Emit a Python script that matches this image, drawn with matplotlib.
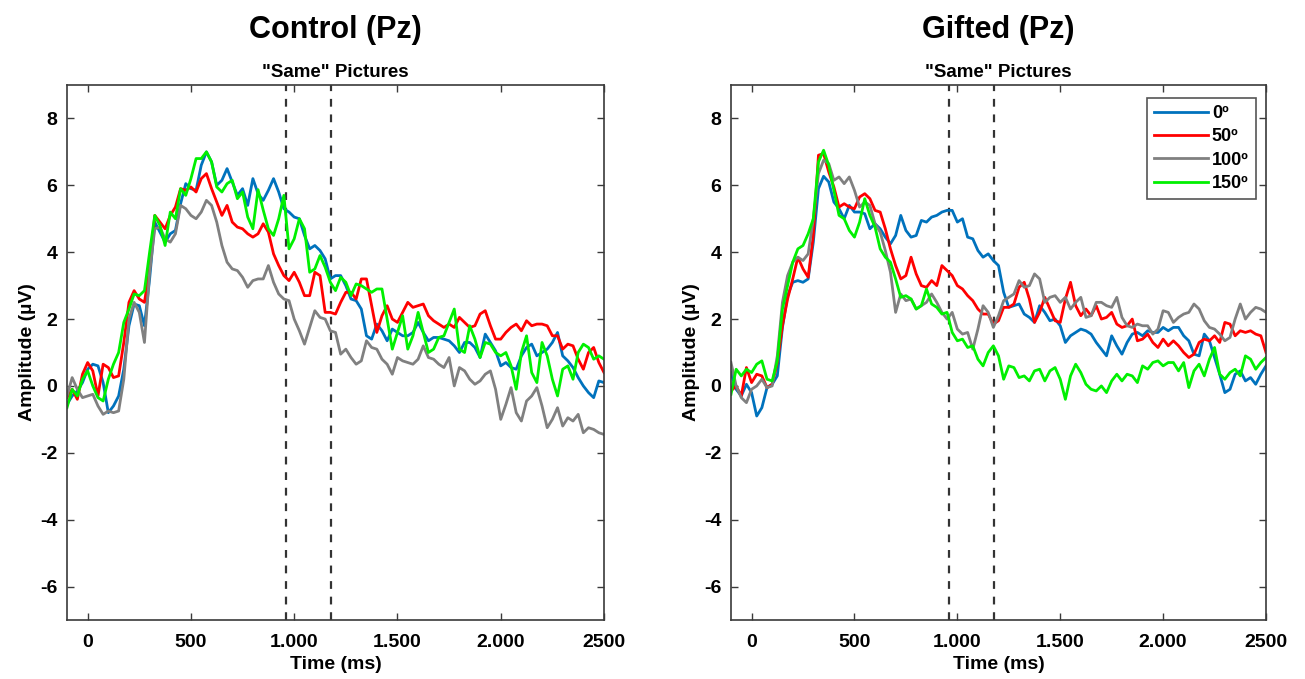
import numpy as np
import matplotlib
matplotlib.use("Agg")
import matplotlib.pyplot as plt

plt.rcParams['font.family'] = ['Liberation Sans', 'DejaVu Sans']
plt.rcParams['font.weight'] = 'bold'
plt.rcParams['axes.unicode_minus'] = False

# Time axis (ms), 25 ms samples
time_ms = np.arange(-100, 2501, 25)

conditions = ['0º', '50º', '100º', '150º']
colors = ['#0072BD', '#FF0000', '#808080', '#00F000']

xticks = [0, 500, 1000, 1500, 2000, 2500]
xtick_labels = ['0', '500', '1.000', '1.500', '2.000', '2500']
yticks = [-6, -4, -2, 0, 2, 4, 6, 8]
window_ms = [960, 1180]

control_0 = [
    -0.55, -0.3, -0.15, 0.1, 0.5, 0.65, 0.6, 0.1, -0.8, -0.6,
    -0.3, 0.5, 1.8, 2.45, 2.4, 1.8, 3.2, 4.9, 4.6, 4.3,
    4.55, 4.65, 5.45, 6.05, 5.9, 5.85, 6.6, 7.0, 6.7, 6.0,
    6.15, 6.5, 6.1, 5.7, 5.9, 5.4, 6.2, 5.75, 5.55, 5.85,
    6.2, 5.8, 5.3, 5.2, 5.05, 5.0, 4.5, 4.1, 4.2, 4.05,
    3.8, 3.2, 3.3, 3.3, 3.0, 2.6, 2.55, 2.3, 1.5, 1.4,
    1.85, 1.65, 1.35, 1.7, 1.6, 1.5, 1.5, 1.6, 1.9, 1.6,
    1.35, 1.45, 1.45, 1.4, 1.35, 1.2, 1.0, 1.3, 1.3, 1.15,
    0.85, 1.55, 1.3, 1.05, 0.6, 0.7, 0.55, 0.5, 0.9, 1.15,
    1.25, 0.9, 1.0, 1.1, 1.3, 1.6, 0.9, 0.75, 0.55, 0.25,
    0.0, -0.2, -0.35, 0.15, 0.1]
control_50 = [
    -0.35, -0.1, -0.4, 0.35, 0.7, 0.45, -0.3, 0.65, 0.55, 0.25,
    0.3, 1.3, 2.5, 2.85, 2.6, 2.5, 3.5, 5.1, 4.9, 4.7,
    5.1, 5.35, 5.9, 5.85, 5.95, 5.8, 6.2, 6.35, 5.9, 5.5,
    5.1, 5.4, 4.9, 4.75, 4.7, 4.55, 4.45, 4.55, 4.85, 4.6,
    3.95, 3.6, 3.3, 3.15, 3.4, 3.1, 2.7, 2.7, 3.4, 3.3,
    2.2, 2.2, 2.15, 2.5, 2.8, 2.8, 2.6, 3.2, 3.2, 2.4,
    1.6, 2.1, 2.4, 2.0, 1.9, 2.2, 2.5, 2.35, 2.4, 2.45,
    2.1, 1.95, 1.85, 1.75, 1.85, 1.75, 2.05, 1.9, 1.75, 1.8,
    2.15, 2.25, 1.8, 1.4, 1.4, 1.6, 1.75, 1.85, 1.65, 1.95,
    1.8, 1.85, 1.85, 1.8, 1.5, 1.5, 1.1, 1.25, 1.2, 0.8,
    0.5, 1.0, 1.15, 0.7, 0.4]
control_100 = [
    -0.3, 0.25, -0.1, -0.35, -0.3, -0.25, -0.6, -0.85, -0.75, -0.8,
    -0.75, 0.2, 2.0, 2.5, 2.2, 1.3, 3.4, 4.7, 4.75, 4.4,
    4.3, 4.55, 5.4, 5.3, 5.1, 5.0, 5.2, 5.55, 5.4, 4.9,
    4.2, 3.7, 3.5, 3.45, 3.25, 2.95, 3.15, 3.2, 3.2, 3.6,
    3.1, 2.75, 2.6, 2.55, 2.0, 1.65, 1.25, 1.75, 2.25, 2.05,
    2.0, 1.65, 1.6, 0.95, 1.1, 0.85, 0.65, 0.75, 1.35, 1.15,
    1.1, 0.8, 0.65, 0.35, 0.85, 0.75, 0.7, 0.65, 0.8, 1.2,
    0.85, 0.8, 0.65, 0.55, 0.85, 0.0, 0.55, 0.45, 0.2, 0.05,
    0.15, 0.35, 0.45, -0.1, -1.0, -0.55, -0.05, -0.8, -1.05, -0.45,
    -0.3, -0.05, -0.6, -1.25, -1.0, -0.65, -1.2, -0.95, -1.05, -0.85,
    -1.4, -1.25, -1.3, -1.4, -1.45]
control_150 = [
    -0.65, -0.1, -0.3, 0.2, 0.45, 0.0, -0.35, -0.45, 0.2, 0.65,
    1.0, 1.9, 2.3, 2.75, 2.7, 2.85, 4.0, 5.1, 4.8, 4.2,
    5.2, 5.0, 5.9, 5.7, 6.2, 6.8, 6.8, 7.0, 6.7, 5.95,
    5.8, 6.05, 6.15, 5.6, 5.8, 5.05, 4.7, 5.87, 5.26, 4.7,
    4.5, 5.0, 5.7, 4.1, 4.4, 5.0, 4.7, 3.4, 3.5, 3.9,
    3.55, 3.1, 2.85, 3.25, 3.1, 2.7, 3.05, 3.0, 2.9, 2.8,
    2.9, 2.9, 2.0, 1.1, 1.6, 2.1, 1.1, 1.5, 2.2, 1.6,
    1.0, 1.1, 1.45, 1.5, 1.9, 2.3, 1.1, 1.0, 1.8, 1.4,
    0.85, 1.3, 1.25, 1.0, 0.9, 1.0, 0.6, -0.1, 1.0, 1.5,
    0.4, 0.1, 1.3, 0.9, 0.2, -0.3, 0.5, 0.6, 0.2, 1.0,
    1.25, 1.15, 0.8, 0.9, 0.8]

gifted_0 = [
    0.4, -0.1, -0.3, 0.05, -0.2, -0.9, -0.65, -0.05, 0.05, 0.3,
    1.75, 2.7, 3.1, 3.15, 3.1, 3.2, 4.3, 5.9, 6.27, 6.1,
    5.5, 5.3, 5.0, 5.4, 5.2, 5.2, 5.15, 4.7, 4.85, 4.7,
    4.45, 4.25, 4.5, 5.1, 4.65, 4.45, 4.5, 4.95, 4.9, 5.05,
    5.1, 5.2, 5.25, 5.25, 4.9, 5.0, 4.45, 4.4, 4.05, 3.85,
    3.95, 3.75, 3.6, 2.8, 2.35, 2.4, 2.45, 2.15, 2.05, 1.9,
    2.4, 2.2, 1.95, 2.0, 1.8, 1.3, 1.5, 1.6, 1.7, 1.65,
    1.55, 1.3, 1.1, 0.9, 1.5, 1.2, 0.95, 1.3, 1.55, 1.6,
    1.5, 1.65, 1.6, 1.6, 1.75, 1.65, 1.75, 1.75, 1.5, 1.35,
    0.95, 0.9, 1.55, 1.35, 0.85, 0.35, -0.2, -0.1, 0.35, 0.45,
    0.15, 0.25, 0.05, 0.35, 0.6]
gifted_50 = [
    -0.15, 0.0, -0.3, 0.55, 0.1, 0.35, 0.3, -0.05, 0.05, 0.7,
    1.8, 2.6, 3.2, 3.85, 3.5, 3.25, 4.5, 6.9, 6.95, 6.4,
    5.95, 5.35, 5.45, 5.35, 5.3, 5.65, 5.75, 5.6, 5.25, 5.2,
    4.7, 4.1, 3.6, 3.2, 3.3, 3.85, 3.35, 3.0, 2.95, 3.15,
    3.0, 3.6, 3.45, 3.3, 3.0, 2.9, 2.7, 2.55, 2.3, 2.15,
    2.15, 1.85, 1.95, 2.35, 2.35, 2.45, 2.95, 3.1, 2.6, 1.9,
    2.2, 2.65, 2.3, 1.95, 1.9, 2.6, 3.1, 2.4, 2.1, 2.3,
    2.1, 2.4, 2.0, 2.05, 2.2, 1.85, 1.75, 1.8, 2.0, 1.35,
    1.4, 1.55, 1.3, 1.15, 1.4, 1.2, 1.35, 1.2, 1.0, 0.85,
    0.95, 1.3, 1.4, 1.35, 1.5, 1.3, 1.9, 1.85, 1.5, 1.65,
    1.6, 1.65, 1.55, 1.5, 1.0]
gifted_100 = [
    0.7, 0.0, -0.35, -0.5, -0.1, 0.0, 0.2, -0.05, 0.0, 0.9,
    2.5, 3.3, 3.7, 3.85, 3.75, 3.95, 5.0, 6.35, 6.75, 6.65,
    6.15, 6.25, 6.05, 6.25, 5.85, 5.35, 5.5, 5.4, 4.85, 4.6,
    4.05, 3.4, 2.2, 2.75, 2.55, 2.6, 2.3, 2.4, 2.5, 2.75,
    2.5, 2.2, 2.0, 2.2, 1.7, 1.55, 1.6, 1.1, 1.7, 2.4,
    2.2, 1.75, 2.1, 2.55, 2.65, 2.75, 3.15, 2.95, 3.0, 3.35,
    3.2, 2.5, 2.65, 2.7, 2.5, 2.65, 2.3, 2.5, 2.65, 2.05,
    2.1, 2.5, 2.5, 2.4, 2.35, 2.65, 2.05, 1.8, 1.75, 1.85,
    1.8, 1.8, 1.55, 1.7, 2.25, 2.2, 1.9, 2.05, 2.15, 2.2,
    2.45, 2.3, 1.95, 1.75, 1.7, 1.55, 1.35, 1.45, 2.0, 2.45,
    2.0, 2.2, 2.35, 2.3, 2.2]
gifted_150 = [
    -0.25, 0.5, 0.3, 0.5, 0.4, 0.65, 0.75, 0.2, 0.15, 0.75,
    2.3, 3.0, 3.7, 4.1, 4.2, 4.55, 5.0, 6.7, 7.05, 6.6,
    5.85, 5.1, 5.0, 4.65, 4.45, 4.9, 5.6, 5.1, 4.75, 4.1,
    3.85, 3.7, 3.2, 2.65, 2.7, 2.6, 2.3, 2.4, 2.9, 2.45,
    2.35, 2.15, 2.2, 1.6, 1.35, 1.4, 1.15, 1.2, 0.8, 0.6,
    1.0, 1.2, 0.9, 0.2, 0.6, 0.55, 0.25, 0.3, 0.15, 0.45,
    0.5, 0.15, 0.45, 0.55, 0.2, -0.4, 0.3, 0.65, 0.4, 0.05,
    -0.1, -0.15, 0.0, -0.2, 0.15, 0.35, 0.15, 0.35, 0.3, 0.1,
    0.6, 0.5, 0.7, 0.75, 0.6, 0.7, 0.7, 0.45, 0.7, -0.05,
    0.45, 0.65, 0.3, 0.8, 1.15, 0.35, 0.2, 0.4, 0.5, 0.3,
    0.9, 0.8, 0.5, 0.7, 0.85]

panels = [
    ('Control (Pz)', [control_0, control_50, control_100, control_150], False),
    ('Gifted (Pz)', [gifted_0, gifted_50, gifted_100, gifted_150], True),
]

W, H = 1305, 679
fig = plt.figure(figsize=(W / 100, H / 100), dpi=100)
axes_px = [(67, 604), (731, 1266)]
top_px, bot_px = 85, 620

spine_col = '#3a3a3a'
for (title, series, show_legend), (x0, x1) in zip(panels, axes_px):
    ax = fig.add_axes([x0 / W, 1 - bot_px / H, (x1 - x0) / W, (bot_px - top_px) / H])
    for vals, lab, col in zip(series, conditions, colors):
        ax.plot(time_ms, vals, color=col, lw=2.0, label=lab, solid_joinstyle='round')
    for wx in window_ms:
        ax.axvline(wx, color='#333333', lw=1.6, ls=(0, (3.5, 3.5)), zorder=0)
    ax.set_xlim(-100, 2500)
    ax.set_ylim(-7, 9)
    ax.set_xticks(xticks)
    ax.set_xticklabels(xtick_labels)
    ax.set_yticks(yticks)
    ax.tick_params(direction='in', length=5, width=1, top=True, right=True,
                   labelsize=14, color=spine_col)
    ax.tick_params(axis='x', pad=10)
    ax.tick_params(axis='y', pad=7)
    for lbl in ax.get_xticklabels() + ax.get_yticklabels():
        lbl.set_fontweight('bold')
    for s in ax.spines.values():
        s.set_color(spine_col)
        s.set_linewidth(1.2)
    ax.set_xlabel('Time (ms)', fontsize=14, fontweight='bold', labelpad=4)
    ax.set_ylabel('Amplitude (µV)', fontsize=14, fontweight='bold', labelpad=3)
    ax.set_title('"Same" Pictures', fontsize=13.5, fontweight='bold', pad=6)
    ax.text(0.5, 1.103, title, transform=ax.transAxes, ha='center', va='center',
            fontsize=22, fontweight='bold')
    if show_legend:
        leg = ax.legend(loc='upper right', fontsize=13, handlelength=3.0,
                        handletextpad=0.2, labelspacing=0.35, borderpad=0.4,
                        borderaxespad=0.0, fancybox=False, framealpha=1,
                        edgecolor='#555555', bbox_to_anchor=(0.981, 0.976))
        leg.get_frame().set_linewidth(1.2)
        for txt in leg.get_texts():
            txt.set_fontweight('bold')

fig.savefig('out.png', dpi=100)
